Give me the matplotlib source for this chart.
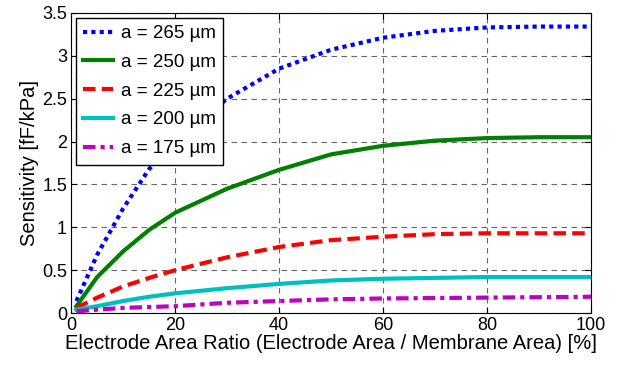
import matplotlib.pyplot as plt

plt.rcParams['font.family'] = ['Liberation Sans', 'DejaVu Sans']

ratio = [1, 5, 10, 15, 20, 30, 40, 50, 60, 70, 80, 90, 100]
s265 = [0.14, 0.68, 1.22, 1.68, 2.00, 2.50, 2.85, 3.07, 3.21, 3.29, 3.33, 3.34, 3.34]
s250 = [0.08, 0.42, 0.72, 0.97, 1.17, 1.45, 1.67, 1.85, 1.95, 2.01, 2.04, 2.05, 2.05]
s225 = [0.06, 0.18, 0.31, 0.41, 0.50, 0.65, 0.77, 0.85, 0.89, 0.92, 0.93, 0.93, 0.93]
s200 = [0.04, 0.08, 0.14, 0.19, 0.23, 0.29, 0.34, 0.38, 0.40, 0.41, 0.42, 0.42, 0.42]
s175 = [0.02, 0.04, 0.06, 0.07, 0.08, 0.12, 0.14, 0.16, 0.17, 0.175, 0.18, 0.185, 0.19]
labels = ['a = 265 µm', 'a = 250 µm', 'a = 225 µm', 'a = 200 µm', 'a = 175 µm']

fig = plt.figure(figsize=(6.19, 3.67), dpi=100)
ax = fig.add_axes([0.115, 0.147, 0.84, 0.818])

ax.plot(ratio, s265, color='#0000ff', ls=(0, (1, 1)), lw=3, label=labels[0])
ax.plot(ratio, s250, color='#008000', ls='-', lw=3, label=labels[1])
ax.plot(ratio, s225, color='#ff0000', ls=(0, (3, 1.5)), lw=3, label=labels[2])
ax.plot(ratio, s200, color='#00bfbf', ls='-', lw=3, label=labels[3])
ax.plot(ratio, s175, color='#bf00bf', ls=(0, (3, 1.2, 1, 1.2)), lw=3, label=labels[4])

ax.set_xlim(0, 100)
ax.set_ylim(0, 3.5)
ax.set_xticks([0, 20, 40, 60, 80, 100])
ax.set_yticks([0, 0.5, 1, 1.5, 2, 2.5, 3, 3.5])
ax.set_yticklabels(['0', '0.5', '1', '1.5', '2', '2.5', '3', '3.5'])
ax.grid(True, color='#404040', ls=(0, (5, 4)), lw=0.8, alpha=0.8)
ax.tick_params(direction='in', top=True, right=True, labelsize=13, length=4, pad=3)
ax.set_xlabel('Electrode Area Ratio (Electrode Area / Membrane Area) [%]', fontsize=14.5, labelpad=0)
ax.set_ylabel('Sensitivity [fF/kPa]', fontsize=14.5, labelpad=2)

leg = ax.legend(loc='upper left', fontsize=13.5, frameon=True, fancybox=False,
                edgecolor='black', framealpha=1, handlelength=1.6,
                borderaxespad=0.25, labelspacing=0.62, handletextpad=0.4,
                borderpad=0.4)
leg.get_frame().set_linewidth(1)

fig.savefig('out.png', dpi=100)
